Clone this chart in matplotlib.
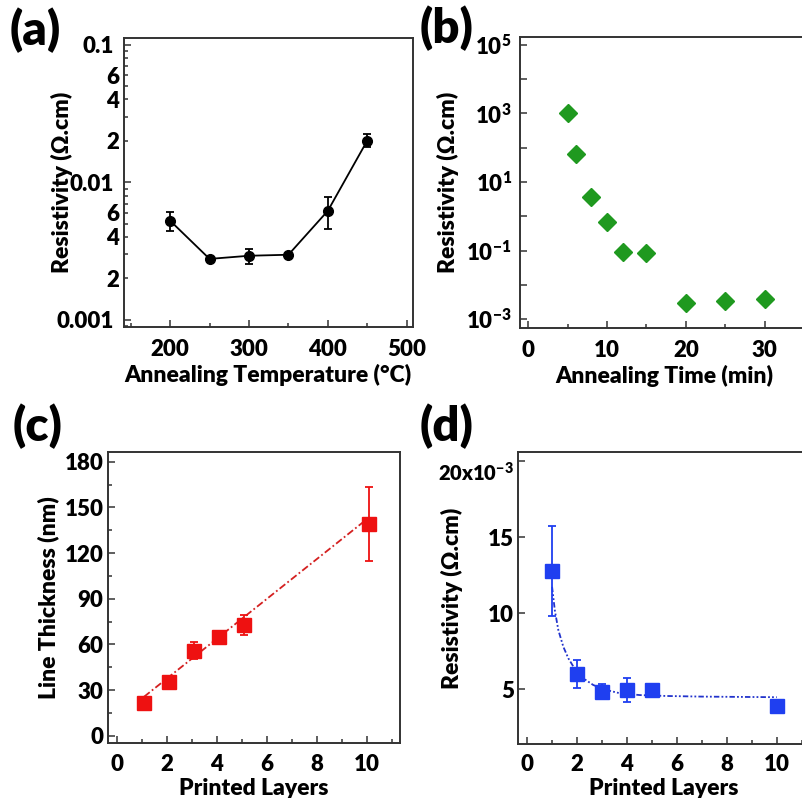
import matplotlib
matplotlib.use('Agg')
import matplotlib.pyplot as plt
from matplotlib.ticker import MultipleLocator, LogLocator, FixedLocator, FuncFormatter
import numpy as np

plt.rcParams['font.family'] = ['Lato', 'DejaVu Sans']
plt.rcParams['font.weight'] = 'heavy'
plt.rcParams['axes.labelweight'] = 'heavy'
plt.rcParams['mathtext.fontset'] = 'custom'
plt.rcParams['mathtext.rm'] = 'Lato:heavy'
plt.rcParams['mathtext.bf'] = 'Lato:heavy'
plt.rcParams['mathtext.it'] = 'Lato:heavy'

# (a) resistivity vs annealing temperature
temp = [200, 250, 300, 350, 400, 450]
rho_temp = [0.00525, 0.00277, 0.00292, 0.00297, 0.0062, 0.0201]
rho_temp_err = [0.0008, 0.0001, 0.00036, 0.0001, 0.0016, 0.0022]

# (b) resistivity vs annealing time
anneal_time = [5, 6, 8, 10, 12, 15, 20, 25, 30]
rho_time = [1000, 65, 3.7, 0.69, 0.089, 0.087, 0.0029, 0.0034, 0.0038]

# (c) line thickness vs printed layers
layers_c = [1.1, 2.1, 3.1, 4.1, 5.1, 10.1]
thickness = [21.3, 35.5, 55.9, 65.0, 72.7, 139.0]
thickness_err = [3, 3, 5.4, 2, 6.4, 24.3]
fit_c_x = [1.1, 10.1]
fit_c_y = [25.6, 143.5]

# (d) resistivity vs printed layers
layers_d = [1, 2, 3, 4, 5, 10]
rho_layers = np.array([12.8, 6.0, 4.85, 4.95, 4.95, 3.92]) * 1e-3
rho_layers_err = np.array([2.95, 0.9, 0.5, 0.77, 0.1, 0.1]) * 1e-3
fit_d_x = [1.02, 1.13, 1.27, 1.47, 1.67, 1.87, 2.27, 2.67, 3.2, 3.73, 4.53, 5.6, 7.0, 8.5, 10.0]
fit_d_y = np.array([11.75, 10.2, 8.9, 7.8, 7.04, 6.5, 5.72, 5.28, 4.95, 4.74, 4.62, 4.56, 4.52, 4.5, 4.48]) * 1e-3

W, H = 802, 798
TICK_FS = 16
LABEL_FS = 16.5
fig = plt.figure(figsize=(W / 100, H / 100), dpi=100)


def box(left, top, right, bottom):
    return [left / W, 1 - bottom / H, (right - left) / W, (bottom - top) / H]


def style(ax, xpad, ypad):
    for s in ax.spines.values():
        s.set_color('#333333')
        s.set_linewidth(1.4)
    ax.tick_params(which='both', direction='in', top=False, right=False,
                   colors='#333333', labelcolor='black', labelsize=TICK_FS, width=1.1)
    ax.tick_params(which='major', length=5)
    ax.tick_params(which='minor', length=3)
    ax.tick_params(axis='y', pad=ypad)
    ax.tick_params(axis='x', pad=xpad)


def labels(ax, xtext, ytext, xoff, yoff):
    # offsets in pixels from the bottom / left spine
    bb = ax.get_position()
    w, h = bb.width * W, bb.height * H
    ax.set_xlabel(xtext, fontsize=LABEL_FS, va='top')
    ax.set_ylabel(ytext, fontsize=LABEL_FS, va='center')
    ax.xaxis.set_label_coords(0.5, -xoff / h)
    ax.yaxis.set_label_coords(-yoff / w, 0.5)


ax_a = fig.add_axes(box(124, 38, 412.7, 326.7))
ax_b = fig.add_axes(box(520, 36.7, 808, 327.7))
ax_c = fig.add_axes(box(108.3, 451.7, 400, 743.3))
ax_d = fig.add_axes(box(518.3, 452.3, 810, 744))

# (a)
ax_a.errorbar(temp, rho_temp, yerr=rho_temp_err, color='black', marker='o', ms=7,
              lw=1.3, elinewidth=1.3, capsize=3, capthick=1.3)
ax_a.set_yscale('log')
ax_a.set_ylim(0.00089, 0.112)
ax_a.set_xlim(141.5, 507.6)
ax_a.xaxis.set_major_locator(MultipleLocator(100))
ax_a.xaxis.set_minor_locator(MultipleLocator(50))
ax_a.yaxis.set_major_locator(FixedLocator([0.001, 0.01, 0.1]))
ax_a.yaxis.set_major_formatter(FuncFormatter(lambda v, p: '%g' % v))
ax_a.yaxis.set_minor_locator(LogLocator(base=10, subs=np.arange(2, 10)))


def mantissa_label(v, p):
    m = round(v / 10 ** np.floor(np.log10(v) + 1e-9))
    return '%d' % m if m in (2, 4, 6) else ''


ax_a.yaxis.set_minor_formatter(FuncFormatter(mantissa_label))
style(ax_a, 8.6, 7)
labels(ax_a, 'Annealing Temperature (°C)', 'Resistivity (Ω.cm)', 37, 62)

# (b)
ax_b.plot(anneal_time, rho_time, ls='none', marker='D', ms=9, color='#1f991f')
ax_b.set_yscale('log')
ax_b.set_ylim(10 ** -3.25, 10 ** 5.24)
ax_b.set_xlim(-1.05, 35.5)
ax_b.xaxis.set_major_locator(MultipleLocator(10))
ax_b.xaxis.set_minor_locator(MultipleLocator(5))
ax_b.yaxis.set_major_locator(FixedLocator([10.0 ** k for k in range(-3, 6)]))
ax_b.yaxis.set_minor_locator(FixedLocator([]))
ax_b.yaxis.set_major_formatter(FuncFormatter(
    lambda v, p: r'$\mathbf{10^{%d}}$' % round(np.log10(v)) if round(np.log10(v)) % 2 else ''))
style(ax_b, 8.6, 6)
ax_b.spines['right'].set_visible(False)
labels(ax_b, 'Annealing Time (min)', 'Resistivity (Ω.cm)', 37, 71.7)

# (c)
ax_c.plot(fit_c_x, fit_c_y, color='#d42020', lw=1.3, dashes=(4, 1.5, 1, 1.5))
ax_c.errorbar(layers_c, thickness, yerr=thickness_err, color='#ee1111', marker='s', ms=10,
              ls='none', elinewidth=1.3, capsize=3, capthick=1.3)
ax_c.set_xlim(-0.33, 11.33)
ax_c.set_ylim(-5, 186.6)
ax_c.xaxis.set_major_locator(MultipleLocator(2))
ax_c.xaxis.set_minor_locator(MultipleLocator(1))
ax_c.yaxis.set_major_locator(MultipleLocator(30))
ax_c.yaxis.set_minor_locator(MultipleLocator(15))
style(ax_c, 7.5, 3.5)
labels(ax_c, 'Printed Layers', 'Line Thickness (nm)', 34.5, 60)

# (d)
ax_d.plot(fit_d_x, fit_d_y, color='#2233cc', lw=1.3, dashes=(3, 1.2, 1, 1.2, 1, 1.2))
ax_d.errorbar(layers_d, rho_layers, yerr=rho_layers_err, color='#1f3ff0', marker='s', ms=10,
              ls='none', elinewidth=1.3, capsize=3, capthick=1.3)
ax_d.set_xlim(-0.33, 11.33)
ax_d.set_ylim(1.4e-3, 20.6e-3)
ax_d.xaxis.set_major_locator(MultipleLocator(2))
ax_d.xaxis.set_minor_locator(MultipleLocator(1))
ax_d.yaxis.set_major_locator(FixedLocator([5e-3, 10e-3, 15e-3, 20e-3]))
ax_d.yaxis.set_major_formatter(FuncFormatter(
    lambda v, p: r'$\mathbf{20x10^{-3}}$' if round(v * 1e3) == 20 else '%d' % round(v * 1e3)))
style(ax_d, 7.5, 3)
ax_d.spines['right'].set_visible(False)
for t in ax_d.get_yticklabels():
    if 'x' in t.get_text():
        t.set_fontsize(14.5)
        t.set_va('top')
labels(ax_d, 'Printed Layers', 'Resistivity (Ω.cm)', 34, 66.6)

# panel letters
for x, y, s in [(10, 45, '(a)'), (420, 43, '(b)'), (13, 441, '(c)'), (420, 441, '(d)')]:
    fig.text(x / W, 1 - y / H, s, fontsize=34, fontweight='heavy', ha='left', va='baseline')

fig.savefig('out.png', dpi=100)
